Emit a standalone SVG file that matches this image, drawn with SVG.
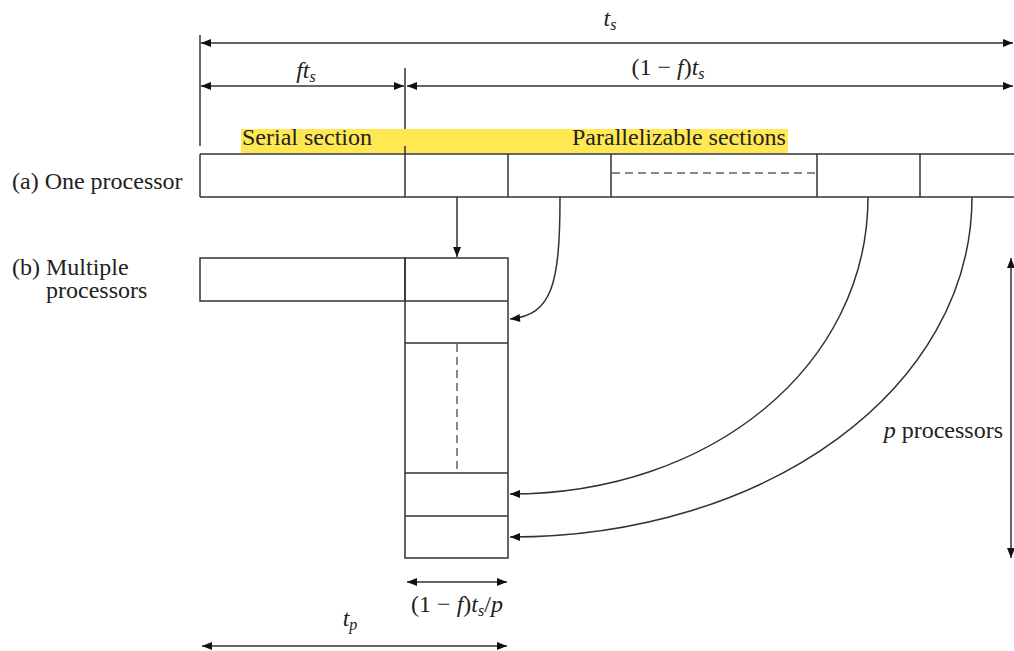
<svg xmlns="http://www.w3.org/2000/svg" width="1014" height="651" viewBox="0 0 1014 651" font-family="Liberation Serif, Times New Roman, Tinos, Noto Serif, DejaVu Serif, FreeSerif, serif">
<style>
.ln{stroke:#333;stroke-width:1.5;fill:none}
.dash{stroke:#888;stroke-width:2;stroke-dasharray:8 5;fill:none}
.t{font-size:24px;fill:#222}
.i{font-style:italic}
.sub{font-size:16px}
.arr{stroke:#333;stroke-width:1.5;fill:none;marker-end:url(#ah)}
.dim{stroke:#333;stroke-width:1.5;fill:none;marker-start:url(#ah);marker-end:url(#ah)}
</style>
<defs>
<marker id="ah" viewBox="0 0 10 8" refX="10" refY="4" markerWidth="11" markerHeight="8" markerUnits="userSpaceOnUse" orient="auto-start-reverse">
<path d="M0,0 L10,4 L0,8 Z" fill="#111"/>
</marker>
</defs>
<rect width="1014" height="651" fill="#fff"/>

<g id="dimensions">
<line class="ln" x1="200" y1="35" x2="200" y2="146"/>
<line class="ln" x1="405" y1="68" x2="405" y2="146"/>
<line class="dim" x1="201" y1="43" x2="1013" y2="43"/>
<line class="dim" x1="201" y1="86" x2="404" y2="86"/>
<line class="dim" x1="407" y1="86" x2="1013" y2="86"/>
<line class="dim" x1="1011" y1="258" x2="1011" y2="558"/>
<line class="dim" x1="407" y1="582" x2="507" y2="582"/>
<line class="dim" x1="202" y1="646" x2="507" y2="646"/>
<text class="t i" x="610" y="26" text-anchor="middle">t<tspan class="sub" dy="4">s</tspan></text>
<text class="t i" x="306" y="78" text-anchor="middle">ft<tspan class="sub" dy="4">s</tspan></text>
<text class="t" x="668" y="75" text-anchor="middle">(1 − <tspan class="i">f</tspan>)<tspan class="i">t</tspan><tspan class="sub i" dy="4">s</tspan></text>
<text class="t" x="457" y="612" text-anchor="middle">(1 − <tspan class="i">f</tspan>)<tspan class="i">t</tspan><tspan class="sub i" dy="4">s</tspan><tspan dy="-4">/</tspan><tspan class="i">p</tspan></text>
<text class="t i" x="350" y="626" text-anchor="middle">t<tspan class="sub" dy="4">p</tspan></text>
<text class="t" x="1003" y="438" text-anchor="end"><tspan class="i">p</tspan> processors</text>
</g>

<g id="highlight">
<rect x="241" y="129" width="547" height="24" fill="#FFE852"/>
<text class="t" x="242" y="145">Serial section</text>
<text class="t" x="572" y="145">Parallelizable sections</text>
</g>

<g id="one-processor">
<text class="t" x="12" y="189">(a) One processor</text>
<line class="ln" x1="200" y1="154" x2="1014" y2="154"/>
<line class="ln" x1="200" y1="197" x2="1014" y2="197"/>
<line class="ln" x1="200" y1="154" x2="200" y2="197"/>
<line class="ln" x1="405" y1="146" x2="405" y2="197"/>
<line class="ln" x1="508" y1="154" x2="508" y2="197"/>
<line class="ln" x1="611" y1="154" x2="611" y2="197"/>
<line class="ln" x1="817" y1="154" x2="817" y2="197"/>
<line class="ln" x1="920" y1="154" x2="920" y2="197"/>
<line class="dash" x1="612" y1="173" x2="816" y2="173"/>
</g>

<g id="multiple-processors">
<text class="t" x="12" y="275">(b) Multiple</text>
<text class="t" x="46" y="298">processors</text>
<rect class="ln" x="200" y="258" width="205" height="43"/>
<rect class="ln" x="405" y="258" width="103" height="300"/>
<line class="ln" x1="405" y1="301" x2="508" y2="301"/>
<line class="ln" x1="405" y1="343" x2="508" y2="343"/>
<line class="ln" x1="405" y1="473" x2="508" y2="473"/>
<line class="ln" x1="405" y1="516" x2="508" y2="516"/>
<line class="dash" x1="457" y1="344" x2="457" y2="472"/>
</g>

<g id="connectors">
<line class="arr" x1="457" y1="197" x2="457" y2="257"/>
<path class="arr" d="M560,197 C560,285 552,315 510,319"/>
<path class="arr" d="M868,197 C868,365 712,494 510,494"/>
<path class="arr" d="M972,197 C972,388 768,537 510,537"/>
</g>
</svg>
